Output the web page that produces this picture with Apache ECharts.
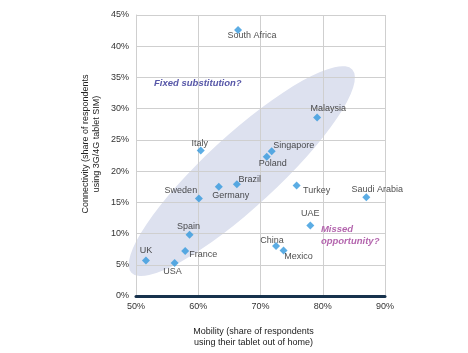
<!DOCTYPE html>
<html>
<head>
	<meta charset="UTF-8">
	<title>Mobility vs Connectivity</title>
	<style>
		html, body { margin: 0; padding: 0; background: #fff; }
		#chart { width: 468px; height: 353px; }
	</style>
</head>
<body>
<div id="chart"></div>
<script type="text/javascript" src="https://cdn.jsdelivr.net/npm/echarts@6/dist/echarts.min.js"></script>
<script type="text/javascript">
// data (percent)
var countries = ['South Africa', 'Malaysia', 'Singapore', 'Poland', 'Italy', 'Brazil', 'Germany', 'Sweden',
	'Turkey', 'Saudi Arabia', 'UAE', 'China', 'Mexico', 'Spain', 'France', 'UK', 'USA'];
var mobility = [66.4, 79.1, 71.8, 71.0, 60.4, 66.2, 63.3, 60.1, 75.8, 87.0, 78.0, 72.5, 73.7, 58.6, 57.9, 51.6, 56.2];
var connectivity = [42.6, 28.6, 23.2, 22.3, 23.3, 17.9, 17.5, 15.6, 17.7, 15.8, 11.3, 8.0, 7.3, 9.8, 7.2, 5.7, 5.3];
var xTicks = [50, 60, 70, 80, 90];
var yTicks = [0, 5, 10, 15, 20, 25, 30, 35, 40, 45];

// where each name sits relative to its marker (px)
var labelOffset = {
	'South Africa': [14, 6], 'Malaysia': [11, -9], 'Singapore': [22, -6], 'Poland': [6, 7],
	'Italy': [-1, -7], 'Brazil': [13, -5], 'Germany': [12, 9], 'Sweden': [-18, -8],
	'Turkey': [20, 5], 'Saudi Arabia': [11, -8], 'UAE': [0, -12], 'China': [-4, -6],
	'Mexico': [15, 6], 'Spain': [-1, -8], 'France': [18, 3], 'UK': [0, -10], 'USA': [-2, 9]
};

var points = [];
for (var i = 0; i < countries.length; i++) {
	points.push({
		name: countries[i],
		value: [mobility[i], connectivity[i]],
		label: { offset: labelOffset[countries[i]] }
	});
}

var chart = echarts.init(document.getElementById('chart'));
var fontFam = '"Liberation Sans", Arial, sans-serif';
var option = {
	animation: false,
	grid: { left: 136, right: 83, top: 15, bottom: 57 },
	xAxis: {
		type: 'value',
		min: xTicks[0], max: xTicks[xTicks.length - 1], interval: 10,
		axisLine: { show: true, onZero: false, lineStyle: { color: '#17324d', width: 3 } },
		axisTick: { show: false },
		axisLabel: { formatter: '{value}%', color: '#333', fontSize: 9, fontFamily: fontFam, margin: 6 },
		splitLine: { show: true, lineStyle: { color: '#cfcfcf', width: 1 } }
	},
	yAxis: {
		type: 'value',
		min: yTicks[0], max: yTicks[yTicks.length - 1], interval: 5,
		axisLine: { show: true, lineStyle: { color: '#cfcfcf', width: 1 } },
		axisTick: { show: false },
		axisLabel: { formatter: '{value}%', color: '#333', fontSize: 9, fontFamily: fontFam, margin: 7 },
		splitLine: { show: true, lineStyle: { color: '#cfcfcf', width: 1 } }
	},
	series: [{
		type: 'scatter',
		symbol: 'diamond',
		symbolSize: 8,
		z: 5,
		itemStyle: { color: '#3399dd' },
		label: {
			show: true,
			position: 'inside',
			formatter: '{b}',
			color: '#222',
			fontSize: 9,
			fontFamily: fontFam
		},
		data: points
	}]
};
chart.setOption(option);

// decorations placed in data space
var c = chart.convertToPixel({ gridIndex: 0 }, [67.0, 20.0]);
var t1 = chart.convertToPixel({ gridIndex: 0 }, [52.9, 34.0]);
var t2 = chart.convertToPixel({ gridIndex: 0 }, [79.7, 11.7]);
chart.setOption({
	graphic: [
		{
			type: 'circle',
			x: c[0], y: c[1],
			scaleX: 150, scaleY: 36,
			rotation: 42.6 * Math.PI / 180,
			shape: { cx: 0, cy: 0, r: 1 },
			style: { fill: '#dde1ef' },
			z: -10,
			silent: true
		},
		{
			type: 'text',
			x: t1[0], y: t1[1],
			style: {
				text: 'Fixed substitution?',
				fill: '#5757a8',
				font: 'italic bold 9.5px ' + fontFam,
				textAlign: 'left',
				textVerticalAlign: 'middle'
			}
		},
		{
			type: 'text',
			x: t2[0], y: t2[1],
			style: {
				text: 'Missed\nopportunity?',
				fill: '#b466ae',
				font: 'italic bold 9.5px ' + fontFam,
				lineHeight: 12.5,
				textAlign: 'left',
				textVerticalAlign: 'top'
			}
		},
		{
			type: 'text',
			x: 91.5, y: 144,
			rotation: Math.PI / 2,
			style: {
				text: 'Connectivity (share of respondents\nusing 3G/4G tablet SIM)',
				fill: '#222',
				font: '9px ' + fontFam,
				lineHeight: 11,
				textAlign: 'center',
				textVerticalAlign: 'middle'
			}
		},
		{
			type: 'text',
			x: 253.5, y: 337,
			style: {
				text: 'Mobility (share of respondents\nusing their tablet out of home)',
				fill: '#222',
				font: '9px ' + fontFam,
				lineHeight: 11,
				textAlign: 'center',
				textVerticalAlign: 'middle'
			}
		}
	]
});
</script>
</body>
</html>
